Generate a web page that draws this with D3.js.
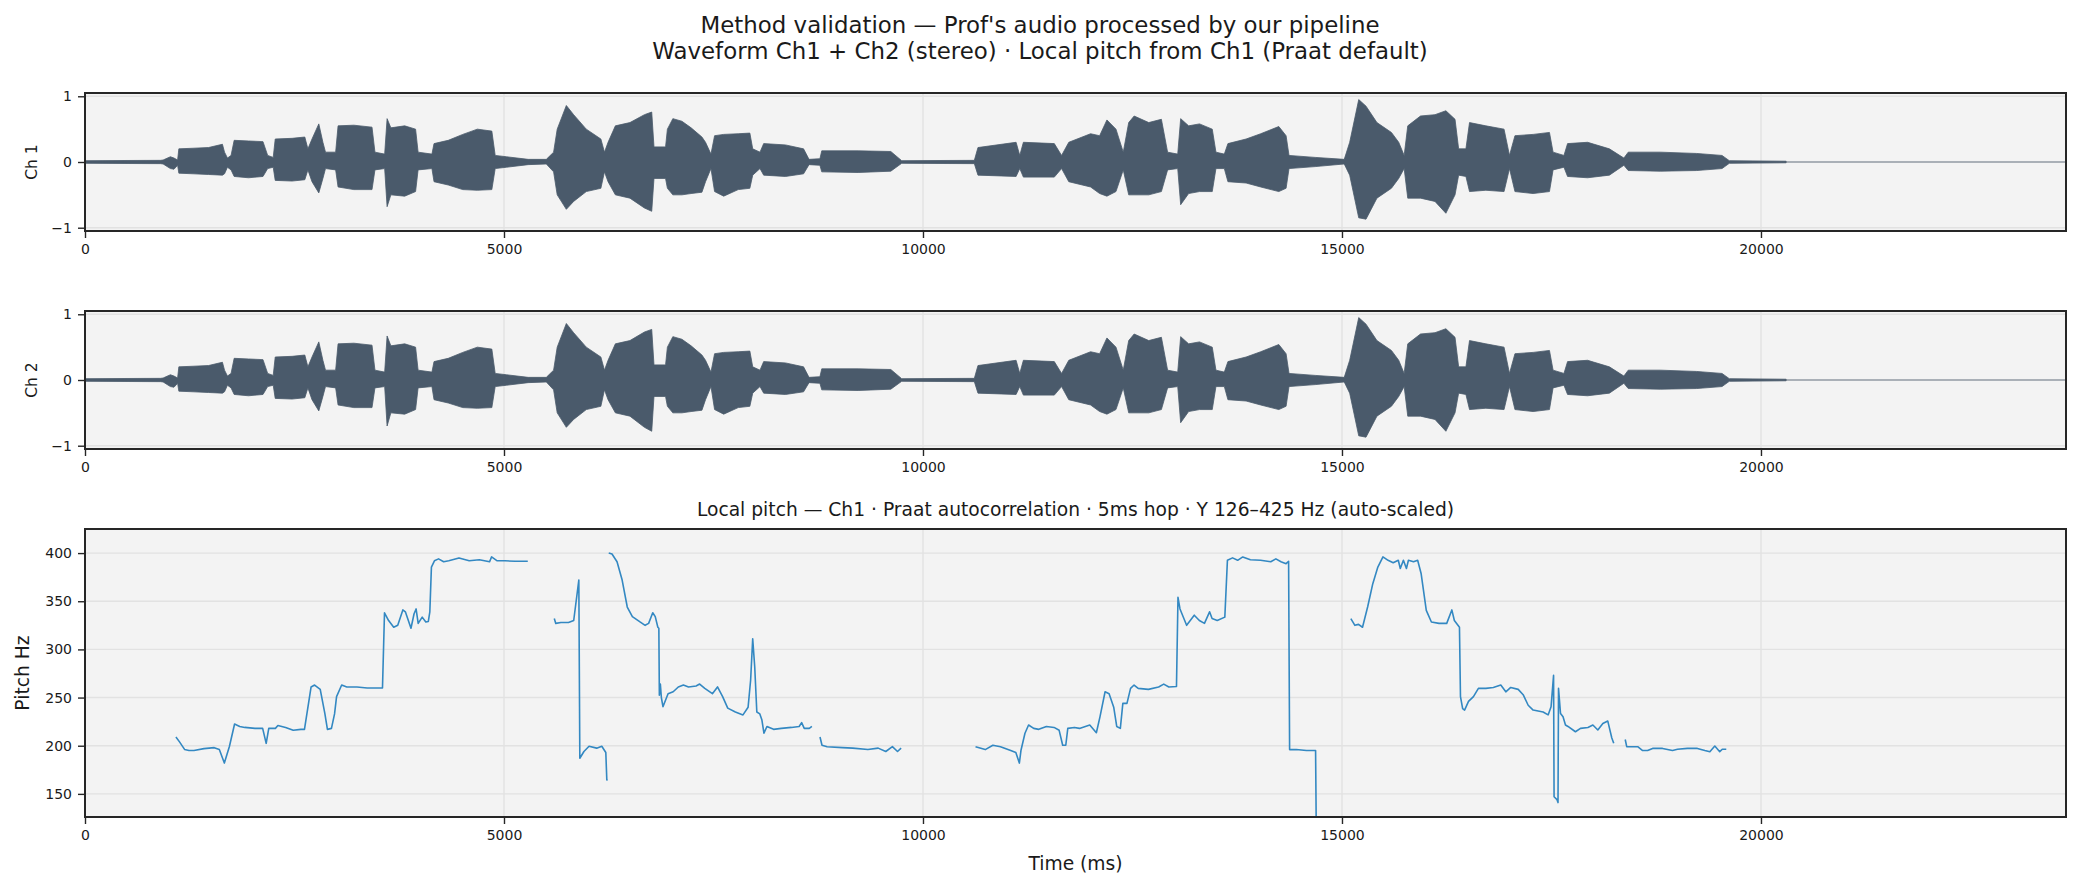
<!DOCTYPE html>
<html><head><meta charset="utf-8">
<script src="https://cdn.jsdelivr.net/npm/d3@7"></script>
<style>body{margin:0;background:#fff;} svg{display:block;} text{font-family:"DejaVu Sans",sans-serif;fill:#1a1a1a;}</style>
</head><body><svg id="c" width="2081" height="889"></svg>
<script>
// ---- data ----
const timeMax = 23640;
const timeTicks = [0, 5000, 10000, 15000, 20000];
const ampTicks = [-1, 0, 1];
const hzTicks = [150, 200, 250, 300, 350, 400];
const hzDomain = [126, 425];

// waveform envelope breakpoints (ms)
const waveTimes = [
  0,900,932,1019,1062,1105,1120,1300,1474,1640,
  1665,1700,1743,1780,1951,2124,2180,2246,2270,2471,
  2623,2660,2709,2790,2839,2870,2991,3020,3208,3425,
  3460,3576,3605,3650,3815,3945,3975,4140,4165,4335,
  4508,4682,4855,4895,5029,5289,5505,5592,5635,5744,
  5831,5982,6156,6199,6242,6329,6503,6676,6763,6790,
  6928,6950,7015,7123,7233,7362,7405,7470,7513,7622,
  7795,7934,7968,8055,8099,8359,8575,8640,8770,8792,
  9226,9616,9746,10613,10656,11111,11155,11198,11567,11654,
  11740,12000,12108,12195,12303,12390,12455,12520,12694,12845,
  12919,13040,13075,13170,13300,13452,13496,13596,13639,13856,
  14030,14246,14333,14368,14680,15027,15092,15200,15287,15417,
  15590,15677,15742,15785,15937,16110,16240,16349,16392,16479,
  16522,16717,16934,16999,17064,17281,17476,17519,17649,17692,
  17931,18191,18364,18416,18798,19232,19535,19622,20300
];
const ch1Upper = [
  .02,.025,.03,.08,.06,.03,.2,.21,.22,.27,
  .15,.06,.1,.33,.32,.31,.1,.07,.35,.36,
  .38,.2,.35,.58,.3,.15,.15,.55,.56,.53,
  .15,.12,.66,.52,.55,.5,.15,.12,.28,.33,
  .42,.5,.47,.1,.08,.04,.04,.15,.5,.86,
  .72,.5,.35,.15,.3,.55,.6,.72,.76,.23,
  .23,.5,.66,.62,.52,.38,.3,.12,.4,.42,
  .43,.44,.2,.15,.28,.26,.2,.04,.05,.17,
  .17,.16,.02,.025,.22,.3,.1,.3,.28,.1,
  .3,.43,.4,.64,.5,.15,.6,.7,.6,.65,
  .15,.12,.66,.55,.58,.5,.15,.12,.28,.35,
  .43,.54,.4,.1,.07,.04,.3,.95,.85,.6,
  .45,.3,.1,.55,.7,.72,.78,.65,.2,.2,
  .6,.55,.5,.1,.4,.42,.45,.15,.1,.28,
  .3,.2,.06,.15,.15,.13,.1,.02,.012
];
const ch1Lower = [
  -.02,-.025,-.03,-.1,-.11,-.05,-.17,-.18,-.19,-.2,
  -.18,-.08,-.12,-.22,-.24,-.22,-.1,-.08,-.28,-.29,
  -.27,-.12,-.3,-.47,-.25,-.1,-.12,-.38,-.42,-.42,
  -.12,-.1,-.68,-.5,-.52,-.45,-.12,-.1,-.3,-.35,
  -.42,-.43,-.42,-.1,-.08,-.04,-.03,-.15,-.5,-.72,
  -.6,-.45,-.4,-.15,-.3,-.5,-.55,-.7,-.75,-.25,
  -.25,-.4,-.5,-.5,-.48,-.46,-.3,-.1,-.45,-.52,
  -.42,-.4,-.2,-.1,-.2,-.22,-.18,-.04,-.05,-.15,
  -.16,-.14,-.02,-.025,-.2,-.22,-.1,-.23,-.23,-.1,
  -.3,-.38,-.48,-.52,-.45,-.12,-.5,-.5,-.5,-.45,
  -.12,-.1,-.65,-.48,-.45,-.45,-.1,-.1,-.3,-.32,
  -.38,-.45,-.4,-.1,-.07,-.03,-.2,-.85,-.87,-.55,
  -.4,-.25,-.1,-.55,-.55,-.6,-.78,-.5,-.2,-.22,
  -.45,-.43,-.45,-.1,-.45,-.48,-.45,-.12,-.08,-.22,
  -.24,-.2,-.05,-.13,-.14,-.13,-.1,-.02,-.012
];
const ch2Upper = [
  .02,.025,.03,.08,.06,.03,.2,.21,.22,.27,
  .15,.06,.1,.33,.32,.31,.1,.07,.35,.36,
  .38,.2,.35,.58,.3,.15,.15,.55,.56,.53,
  .15,.12,.67,.52,.55,.5,.15,.12,.28,.33,
  .42,.5,.47,.1,.08,.04,.04,.15,.5,.86,
  .72,.5,.35,.15,.3,.55,.6,.73,.77,.23,
  .23,.5,.66,.62,.52,.38,.3,.12,.4,.42,
  .43,.44,.2,.15,.28,.26,.2,.04,.05,.17,
  .17,.16,.02,.025,.22,.3,.1,.3,.28,.1,
  .3,.43,.4,.64,.5,.15,.6,.7,.6,.65,
  .15,.12,.66,.55,.58,.5,.15,.12,.28,.35,
  .43,.54,.4,.1,.07,.04,.3,.95,.85,.6,
  .45,.3,.1,.55,.7,.72,.78,.65,.2,.2,
  .6,.55,.5,.1,.4,.42,.45,.15,.1,.28,
  .3,.2,.06,.15,.15,.13,.1,.02,.012
];
const ch2Lower = [
  -.02,-.025,-.03,-.1,-.11,-.05,-.17,-.18,-.19,-.2,
  -.18,-.08,-.12,-.22,-.24,-.22,-.1,-.08,-.28,-.29,
  -.27,-.12,-.3,-.47,-.25,-.1,-.12,-.38,-.42,-.42,
  -.12,-.1,-.7,-.5,-.52,-.45,-.12,-.1,-.3,-.35,
  -.42,-.43,-.42,-.1,-.08,-.04,-.03,-.15,-.5,-.72,
  -.6,-.45,-.4,-.15,-.3,-.5,-.55,-.72,-.78,-.25,
  -.25,-.4,-.5,-.5,-.48,-.46,-.3,-.1,-.45,-.52,
  -.42,-.4,-.2,-.1,-.2,-.22,-.18,-.04,-.05,-.15,
  -.16,-.14,-.02,-.025,-.2,-.22,-.1,-.23,-.23,-.1,
  -.3,-.38,-.48,-.52,-.45,-.12,-.5,-.5,-.5,-.45,
  -.12,-.1,-.65,-.48,-.45,-.45,-.1,-.1,-.3,-.32,
  -.38,-.45,-.4,-.1,-.07,-.03,-.2,-.85,-.87,-.55,
  -.4,-.25,-.1,-.55,-.55,-.6,-.78,-.5,-.2,-.22,
  -.45,-.43,-.45,-.1,-.45,-.48,-.45,-.12,-.08,-.22,
  -.24,-.2,-.05,-.13,-.14,-.13,-.1,-.02,-.012
];

// local pitch (Ch1); null = unvoiced gap
const pitchTimes = [
  1085,1128,1190,1240,1300,1420,1542,1603,1663,1724,1785,1846,1907,2029,2120,2162,2193,2272,2302,2394,
  2485,2576,2619,2698,2740,2807,2862,2893,2941,2978,3002,3063,3124,3246,3367,3550,3574,3623,3684,3732,
  3793,3823,3890,3927,3951,3976,4024,4067,4097,4115,4134,4170,4219,4280,4341,4463,4585,4706,4828,4852,
  4919,5011,5132,5284,null,
  5600,5618,5679,5770,5832,5893,5905,5954,6015,6106,6167,6215,6227,6236,null,
  6250,6289,6349,6410,6471,6532,6623,6684,6726,6775,6805,6836,6848,6854,6866,6878,6897,6958,7019,7080,
  7141,7202,7292,7335,7396,7487,7548,7609,7670,7761,7852,7913,7943,7968,7992,8017,8053,8077,8102,8138,
  8217,8309,8430,8522,8552,8583,8643,8674,null,
  8771,8795,8856,9039,9161,9343,9465,9556,9635,9696,9739,null,
  10627,10743,10834,10925,11047,11108,11150,11169,11217,11260,11321,11382,11473,11564,11625,11667,11704,11728,11807,11868,
  11990,12069,12112,12173,12221,12276,12312,12355,12385,12434,12477,12519,12568,12690,12812,12873,12934,13025,13043,13067,
  13146,13237,13298,13359,13420,13450,13511,13602,13633,13694,13755,13816,13907,14029,14150,14211,14272,14333,14363,14375,
  14454,14576,14685,14697,null,
  15106,15154,15197,15245,15306,15367,15428,15489,15550,15611,15672,15696,15733,15769,15793,15854,15903,15945,16006,16067,
  16158,16250,16311,16341,16384,16402,16414,16440,16463,16510,16569,16628,16717,16806,16895,16955,17014,17103,17162,17222,
  17281,17400,17460,17495,17525,17531,17566,17578,17584,17608,17638,17667,17697,17786,17846,17935,17994,18053,18113,18172,
  18220,18243,null,
  18380,18398,18469,18529,18588,18647,18707,18826,18944,19004,19122,19241,19330,19390,19449,19508,19538,19586
];
const pitchHz = [
  209,204,196,195,195,197,198,196,182,199.5,222.5,220,219,218,218,202.5,218,218,221,219,
  216,217,217,261,263,258.5,233.5,217,218,233,251,263,261,261,260,260,338,330,323,325,
  341,339,322,337,342,327,333.5,328.5,329,339,385.5,392,394,391,392,395,392,393,391,396,
  392,392,391.5,391.5,null,
  332,327,328,328,330,372,187,194,199.5,197.5,199.5,193,164.5,164,null,
  400,399,391,372,344,334,328.5,325,327,338,334,323,322,252.5,264,250,240.5,254,256,261,
  263,261,262,264,259.5,254,261,251,239,235,232,240,268,311,282,235,233,227,213,220,
  217,218,219,220,224,218,218,220,null,
  209,200.5,199,198,197.5,196,197.5,194,199,194,197.5,null,
  199,196,200.5,199,195,193,182,195,213,221.5,218,217,220,219,216,200.5,200.5,218,219,218,
  221.5,213.5,230,256,254,240,220,218,244,244,259.5,263,259.5,258.5,261,264,261,261.5,354,342,
  325,335.5,330,327,339,332,330,333.5,392.5,395,392.5,396,393,392.5,391,394,391,389,391.5,196,
  196,195,195,75,null,
  332,325,326,323,344,368,385.5,396,392.5,390,392.5,384,392.5,384,392.5,391,392.5,378.5,340.5,328.5,
  327,327,341,330,325,323,251,238.5,237,246,251,259.5,259.5,260.5,263,256,260.5,258.5,253,242,
  237,235,232,240.5,273,147,144,141,259.5,233.5,230,221.5,220,214.5,218,219,221.5,216.3,223,225.6,
  208,202.5,null,
  206.5,199,199,199,195,195,197.2,197.2,195,196.3,197.2,197.2,195,193.8,199.7,193.8,196.3,196.3
];

// ---- layout ----
const L = 85, R = 2066;
const BG = "#f3f3f3", GRID = "#e2e2e2", SPINE = "#262626";
const WAVE = "#4a5a6b", PITCH = "#3388c2";
const svg = d3.select("#c");
const x = d3.scaleLinear().domain([0, timeMax]).range([L, R]);

svg.append("text").attr("x", 1040).attr("y", 33).attr("text-anchor", "middle")
  .style("font-size", "22.9px").text("Method validation \u2014 Prof's audio processed by our pipeline");
svg.append("text").attr("x", 1040).attr("y", 59).attr("text-anchor", "middle")
  .style("font-size", "22.9px").text("Waveform Ch1 + Ch2 (stereo) \u00b7 Local pitch from Ch1 (Praat default)");

const defs = svg.append("defs");
let clipN = 0;
function frame(top, bottom, y, yTicks, yFmt) {
  const g = svg.append("g");
  const id = "clip" + (clipN++);
  defs.append("clipPath").attr("id", id).append("rect")
    .attr("x", L).attr("y", top).attr("width", R - L).attr("height", bottom - top);
  g.append("rect").attr("x", L).attr("y", top).attr("width", R - L).attr("height", bottom - top).attr("fill", BG);
  g.selectAll(".vg").data(timeTicks).join("line")
    .attr("x1", d => x(d)).attr("x2", d => x(d)).attr("y1", top).attr("y2", bottom)
    .attr("stroke", GRID).attr("stroke-width", 1.4);
  g.selectAll(".hg").data(yTicks).join("line")
    .attr("x1", L).attr("x2", R).attr("y1", d => y(d)).attr("y2", d => y(d))
    .attr("stroke", GRID).attr("stroke-width", 1.4);
  const plot = g.append("g").attr("clip-path", `url(#${id})`);
  const ax = g.append("g").attr("transform", `translate(0,${bottom})`)
    .call(d3.axisBottom(x).tickValues(timeTicks).tickFormat(d3.format("d")).tickSize(7).tickPadding(6));
  const ay = g.append("g").attr("transform", `translate(${L},0)`)
    .call(d3.axisLeft(y).tickValues(yTicks).tickFormat(yFmt).tickSize(7).tickPadding(6));
  [ax, ay].forEach(a => {
    a.select(".domain").remove();
    a.selectAll("line").attr("stroke", SPINE).attr("stroke-width", 1.4);
    a.selectAll("text").style("font-size", "14px").style("font-family", "DejaVu Sans").attr("fill", "#1a1a1a");
  });
  g.append("rect").attr("x", L).attr("y", top).attr("width", R - L).attr("height", bottom - top)
    .attr("fill", "none").attr("stroke", SPINE).attr("stroke-width", 2);
  return plot;
}

const ampFmt = d => d < 0 ? "\u2212" + Math.abs(d) : String(d);
function wavePanel(top, bottom, upper, lower, label) {
  const y = d3.scaleLinear().domain([-1.05, 1.05]).range([bottom, top]);
  const plot = frame(top, bottom, y, ampTicks, ampFmt);
  plot.append("line").attr("x1", x(0)).attr("x2", x(timeMax)).attr("y1", y(0)).attr("y2", y(0))
    .attr("stroke", WAVE).attr("stroke-opacity", 0.5).attr("stroke-width", 1.3);
  const area = d3.area()
    .x(i => x(waveTimes[i])).y0(i => y(lower[i])).y1(i => y(upper[i]));
  plot.append("path").datum(d3.range(waveTimes.length)).attr("d", area).attr("fill", WAVE)
    .attr("stroke", WAVE).attr("stroke-width", 0.8);
  svg.append("text").attr("transform", `translate(37,${(top + bottom) / 2}) rotate(-90)`)
    .attr("text-anchor", "middle").style("font-size", "15.5px").text(label);
}
wavePanel(93, 231, ch1Upper, ch1Lower, "Ch 1");
wavePanel(311, 449, ch2Upper, ch2Lower, "Ch 2");

// pitch panel
const pTop = 529, pBottom = 817;
const yp = d3.scaleLinear().domain(hzDomain).range([pBottom, pTop]);
const pplot = frame(pTop, pBottom, yp, hzTicks, d3.format("d"));
const pts = pitchTimes.map((t, i) => ({ t, hz: pitchHz[i] }));
pplot.append("path").datum(pts)
  .attr("d", d3.line().defined(d => d.hz != null && d.t != null).x(d => x(d.t)).y(d => yp(d.hz)))
  .attr("fill", "none").attr("stroke", PITCH).attr("stroke-width", 1.6).attr("stroke-linejoin", "round");
svg.append("text").attr("x", (L + R) / 2).attr("y", 516).attr("text-anchor", "middle")
  .style("font-size", "18.7px")
  .text("Local pitch \u2014 Ch1 \u00b7 Praat autocorrelation \u00b7 5ms hop \u00b7 Y 126\u2013425 Hz (auto-scaled)");
svg.append("text").attr("x", (L + R) / 2).attr("y", 870).attr("text-anchor", "middle")
  .style("font-size", "18.7px").text("Time (ms)");
svg.append("text").attr("transform", `translate(29,${(pTop + pBottom) / 2}) rotate(-90)`)
  .attr("text-anchor", "middle").style("font-size", "18.7px").text("Pitch Hz");
</script></body></html>
